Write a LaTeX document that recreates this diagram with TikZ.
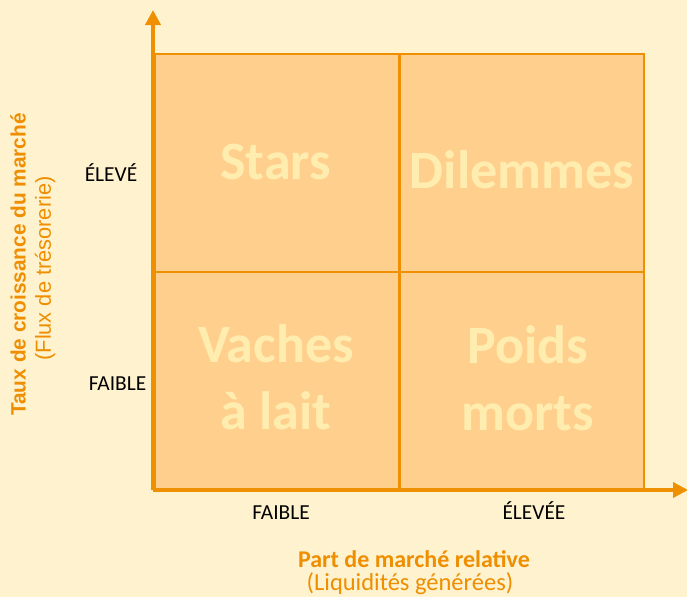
\documentclass[tikz,border=0pt]{standalone}
\usepackage{fontspec}
\setmainfont{Carlito}
\newfontfamily\axisfont{Liberation Sans}
\usetikzlibrary{arrows.meta}
\definecolor{bgc}{HTML}{FFF2CF}
\definecolor{quadc}{HTML}{FFD08D}
\definecolor{linec}{HTML}{EE9000}
\definecolor{qtext}{HTML}{FFEDB0}
\definecolor{labc}{HTML}{EE8E00}
\tikzset{
  quad/.style={draw=linec, line width=2pt, fill=quadc, minimum width=244pt, minimum height=218.5pt, inner sep=0pt},
  axisline/.style={draw=linec, line width=3.8pt, -{Triangle[length=15pt,width=15pt]}},
  big/.style={text=qtext, font=\fontsize{54}{67}\selectfont\bfseries, align=center, inner sep=0pt},
  tick/.style={text=black, font=\fontsize{21.4}{24}\selectfont, inner sep=0pt},
  axtitle/.style={text=labc, inner sep=0pt, align=center}
}
\begin{document}
\begin{tikzpicture}[x=1pt,y=-1pt]
\fill[bgc] (0,0) rectangle (687,597);
\useasboundingbox (0,0) rectangle (687,597);
% quadrants
\node[quad] (q1) at (277,162.75) {};
\node[quad] (q2) at (522,162.75) {};
\node[quad] (q3) at (277,381.25) {};
\node[quad] (q4) at (522,381.25) {};
% quadrant texts
\node[big] (tstars) at (275.5,162) {Stars};
\node[big] (tdil) at (522,170) {Dilemmes};
\node[big] (tvach) at (276,377.5) {Vaches\\à lait};
\node[big] (tpoids) at (527.5,378.5) {Poids\\morts};
% axes
\coordinate (o) at (153,490);
\coordinate (ytip) at (153,10);
\coordinate (xtip) at (688,490);
\draw[axisline] (o) -- (ytip);
\draw[axisline] (o) -- (xtip);
% ticks
\node[tick] (yhigh) at (111,172.5) {ÉLEVÉ};
\node[tick] (ylow) at (117.5,384) {FAIBLE};
\node[tick] (xlow) at (281,513) {FAIBLE};
\node[tick] (xhigh) at (534,510.7) {ÉLEVÉE};
% axis titles
\node[axtitle, rotate=90, font=\axisfont\fontsize{20.8}{22}\selectfont\bfseries] (ytitle) at (18,264.5) {Taux de croissance du marché};
\node[axtitle, rotate=90, font=\axisfont\fontsize{21.8}{22}\selectfont] (ysub) at (45,268.5) {(Flux de trésorerie)};
\node[axtitle, font=\fontsize{24}{26}\selectfont\bfseries] (xtitle) at (414,559) {Part de marché relative};
\node[axtitle, font=\fontsize{24.5}{26}\selectfont] (xsub) at (410,583.5) {(Liquidités générées)};
\end{tikzpicture}
\end{document}
